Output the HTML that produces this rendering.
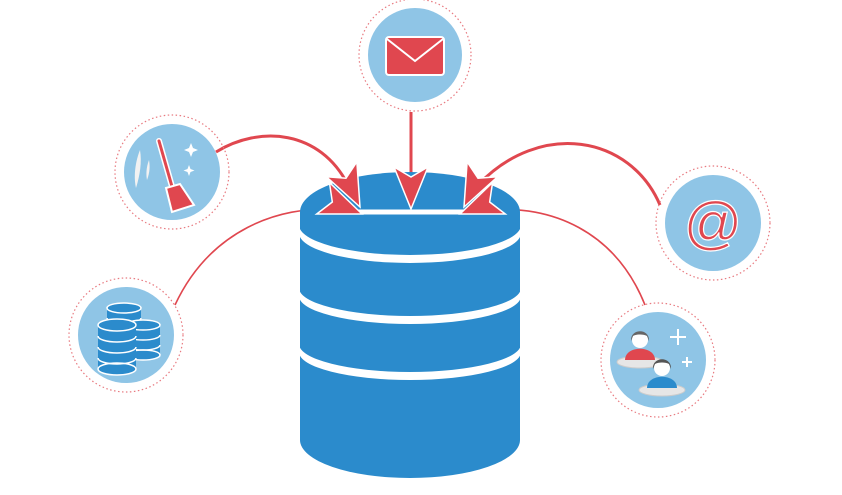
<!DOCTYPE html>
<html><head><meta charset="utf-8"><style>html,body{margin:0;padding:0;background:#fff}svg{display:block}</style></head>
<body>
<svg width="842" height="495" viewBox="0 0 842 495" xmlns="http://www.w3.org/2000/svg">
<defs>
<g id="coin">
<rect x="-17" y="0" width="34" height="30" fill="#2b8bcc"/>
<ellipse cx="0" cy="30" rx="17" ry="5" fill="#2b8bcc" stroke="#fff" stroke-width="1.5"/>
<path d="M-17,10 A17,5 0 0 0 17,10 M-17,20 A17,5 0 0 0 17,20" fill="none" stroke="#fff" stroke-width="1.5"/>
<ellipse cx="0" cy="0" rx="17" ry="5" fill="#2b8bcc" stroke="#fff" stroke-width="1.5"/>
</g>
<g id="bigcoin">
<rect x="-19" y="0" width="38" height="44" fill="#2b8bcc"/>
<ellipse cx="0" cy="44" rx="19" ry="6" fill="#2b8bcc" stroke="#fff" stroke-width="1.5"/>
<path d="M-19,11 A19,6 0 0 0 19,11 M-19,22 A19,6 0 0 0 19,22 M-19,33 A19,6 0 0 0 19,33" fill="none" stroke="#fff" stroke-width="1.5"/>
<ellipse cx="0" cy="0" rx="19" ry="6" fill="#2b8bcc" stroke="#fff" stroke-width="1.5"/>
</g>
<polygon id="ah" points="0,0 -42,-17 -32,0 -42,17" fill="#e0474f" stroke="#fff" stroke-width="1.5"/>
</defs>
<!-- connectors -->
<g fill="none" stroke="#e0474f">
<path d="M175,305 C210,230 280,205 335,210" stroke-width="1.6"/>
<path d="M645,305 C615,230 550,205 490,210" stroke-width="1.6"/>
<path d="M216,152 C260,125 320,130 348,185" stroke-width="3"/>
<path d="M660,205 C630,135 540,120 478,185" stroke-width="3"/>
<path d="M411,112 L411,180" stroke-width="3"/>
</g>
<!-- database -->
<g fill="#2b8bcc">
<ellipse cx="410" cy="212" rx="110" ry="40"/>
<path d="M300,212 L300,440 A110,38 0 0 0 520,440 L520,212 Z"/>
</g>
<g fill="#fff">
<path d="M299,225 A111,30 0 0 0 521,225 L521,233 A111,30 0 0 1 299,233 Z"/>
<path d="M299,288 A111,28 0 0 0 521,288 L521,296 A111,28 0 0 1 299,296 Z"/>
<path d="M299,344 A111,28 0 0 0 521,344 L521,352 A111,28 0 0 1 299,352 Z"/>
</g>
<line x1="352" y1="212" x2="470" y2="212" stroke="#fff" stroke-width="5"/>
<!-- arrowheads -->
<use href="#ah" transform="translate(411,209) rotate(90)"/>
<use href="#ah" transform="translate(360,207) rotate(64)"/>
<use href="#ah" transform="translate(464,207) rotate(116)"/>
<use href="#ah" transform="translate(362,214) rotate(22)"/>
<use href="#ah" transform="translate(460,214) rotate(158)"/>
<!-- circles -->
<g fill="none" stroke="#e87a80" stroke-width="1.2" stroke-dasharray="1.5 2.5">
<circle cx="415" cy="55" r="56"/>
<circle cx="172" cy="172" r="57"/>
<circle cx="126" cy="335" r="57"/>
<circle cx="713" cy="223" r="57"/>
<circle cx="658" cy="360" r="57"/>
</g>
<g fill="#8fc5e6">
<circle cx="415" cy="55" r="47"/>
<circle cx="172" cy="172" r="48"/>
<circle cx="126" cy="335" r="48"/>
<circle cx="713" cy="223" r="48"/>
<circle cx="658" cy="360" r="48"/>
</g>
<!-- mail -->
<rect x="386" y="37" width="58" height="38" rx="3" fill="#e0474f" stroke="#fff" stroke-width="2"/>
<path d="M387,39 L415,61 L443,39" fill="none" stroke="#fff" stroke-width="2"/>
<!-- broom -->
<g>
<path d="M140,150 C134,165 134,180 136,188 C140,175 142,162 140,150Z" fill="#f2f2f2"/>
<path d="M149,160 C146,168 146,175 147,180 C150,172 150,166 149,160Z" fill="#f2f2f2"/>
<line x1="159" y1="141" x2="173" y2="190" stroke="#fff" stroke-width="6" stroke-linecap="round"/>
<line x1="159" y1="141" x2="173" y2="190" stroke="#e0474f" stroke-width="3" stroke-linecap="round"/>
<path d="M166,188 L180,184 L194,205 L172,212Z" fill="#e0474f" stroke="#fff" stroke-width="2"/>
<path d="M191,143 l2,5 5,2 -5,2 -2,5 -2,-5 -5,-2 5,-2Z" fill="#fff"/>
<path d="M189,165 l1.5,4 4,1.5 -4,1.5 -1.5,4 -1.5,-4 -4,-1.5 4,-1.5Z" fill="#fff"/>
</g>
<!-- coins -->
<use href="#coin" x="124" y="308"/>
<use href="#coin" x="143" y="325"/>
<use href="#bigcoin" x="117" y="325"/>
<!-- @ -->
<text x="713" y="243" font-family="Liberation Sans, sans-serif" font-size="58" text-anchor="middle" fill="#e0474f" stroke="#fff" stroke-width="1.2">@</text>
<!-- people -->
<g>
<ellipse cx="640" cy="362" rx="23" ry="6" fill="#e6e6e6" stroke="#ccc"/>
<path d="M625,360 C625,345 655,345 655,360Z" fill="#e0474f"/>
<circle cx="640" cy="340" r="8" fill="#fff"/>
<path d="M631,341 C630,328 650,328 649,341 L647,336 C644,334 636,334 633,336Z" fill="#666"/>
<ellipse cx="662" cy="390" rx="23" ry="6" fill="#e6e6e6" stroke="#ccc"/>
<path d="M647,388 C647,373 677,373 677,388Z" fill="#2b8bcc"/>
<circle cx="662" cy="368" r="8" fill="#fff"/>
<path d="M653,369 C652,356 672,356 671,369 L669,364 C666,362 658,362 655,364Z" fill="#555"/>
<path d="M678,329 v16 M670,337 h16 M687,357 v10 M682,362 h10" stroke="#fff" stroke-width="2"/>
</g>
</svg>
</body></html>
